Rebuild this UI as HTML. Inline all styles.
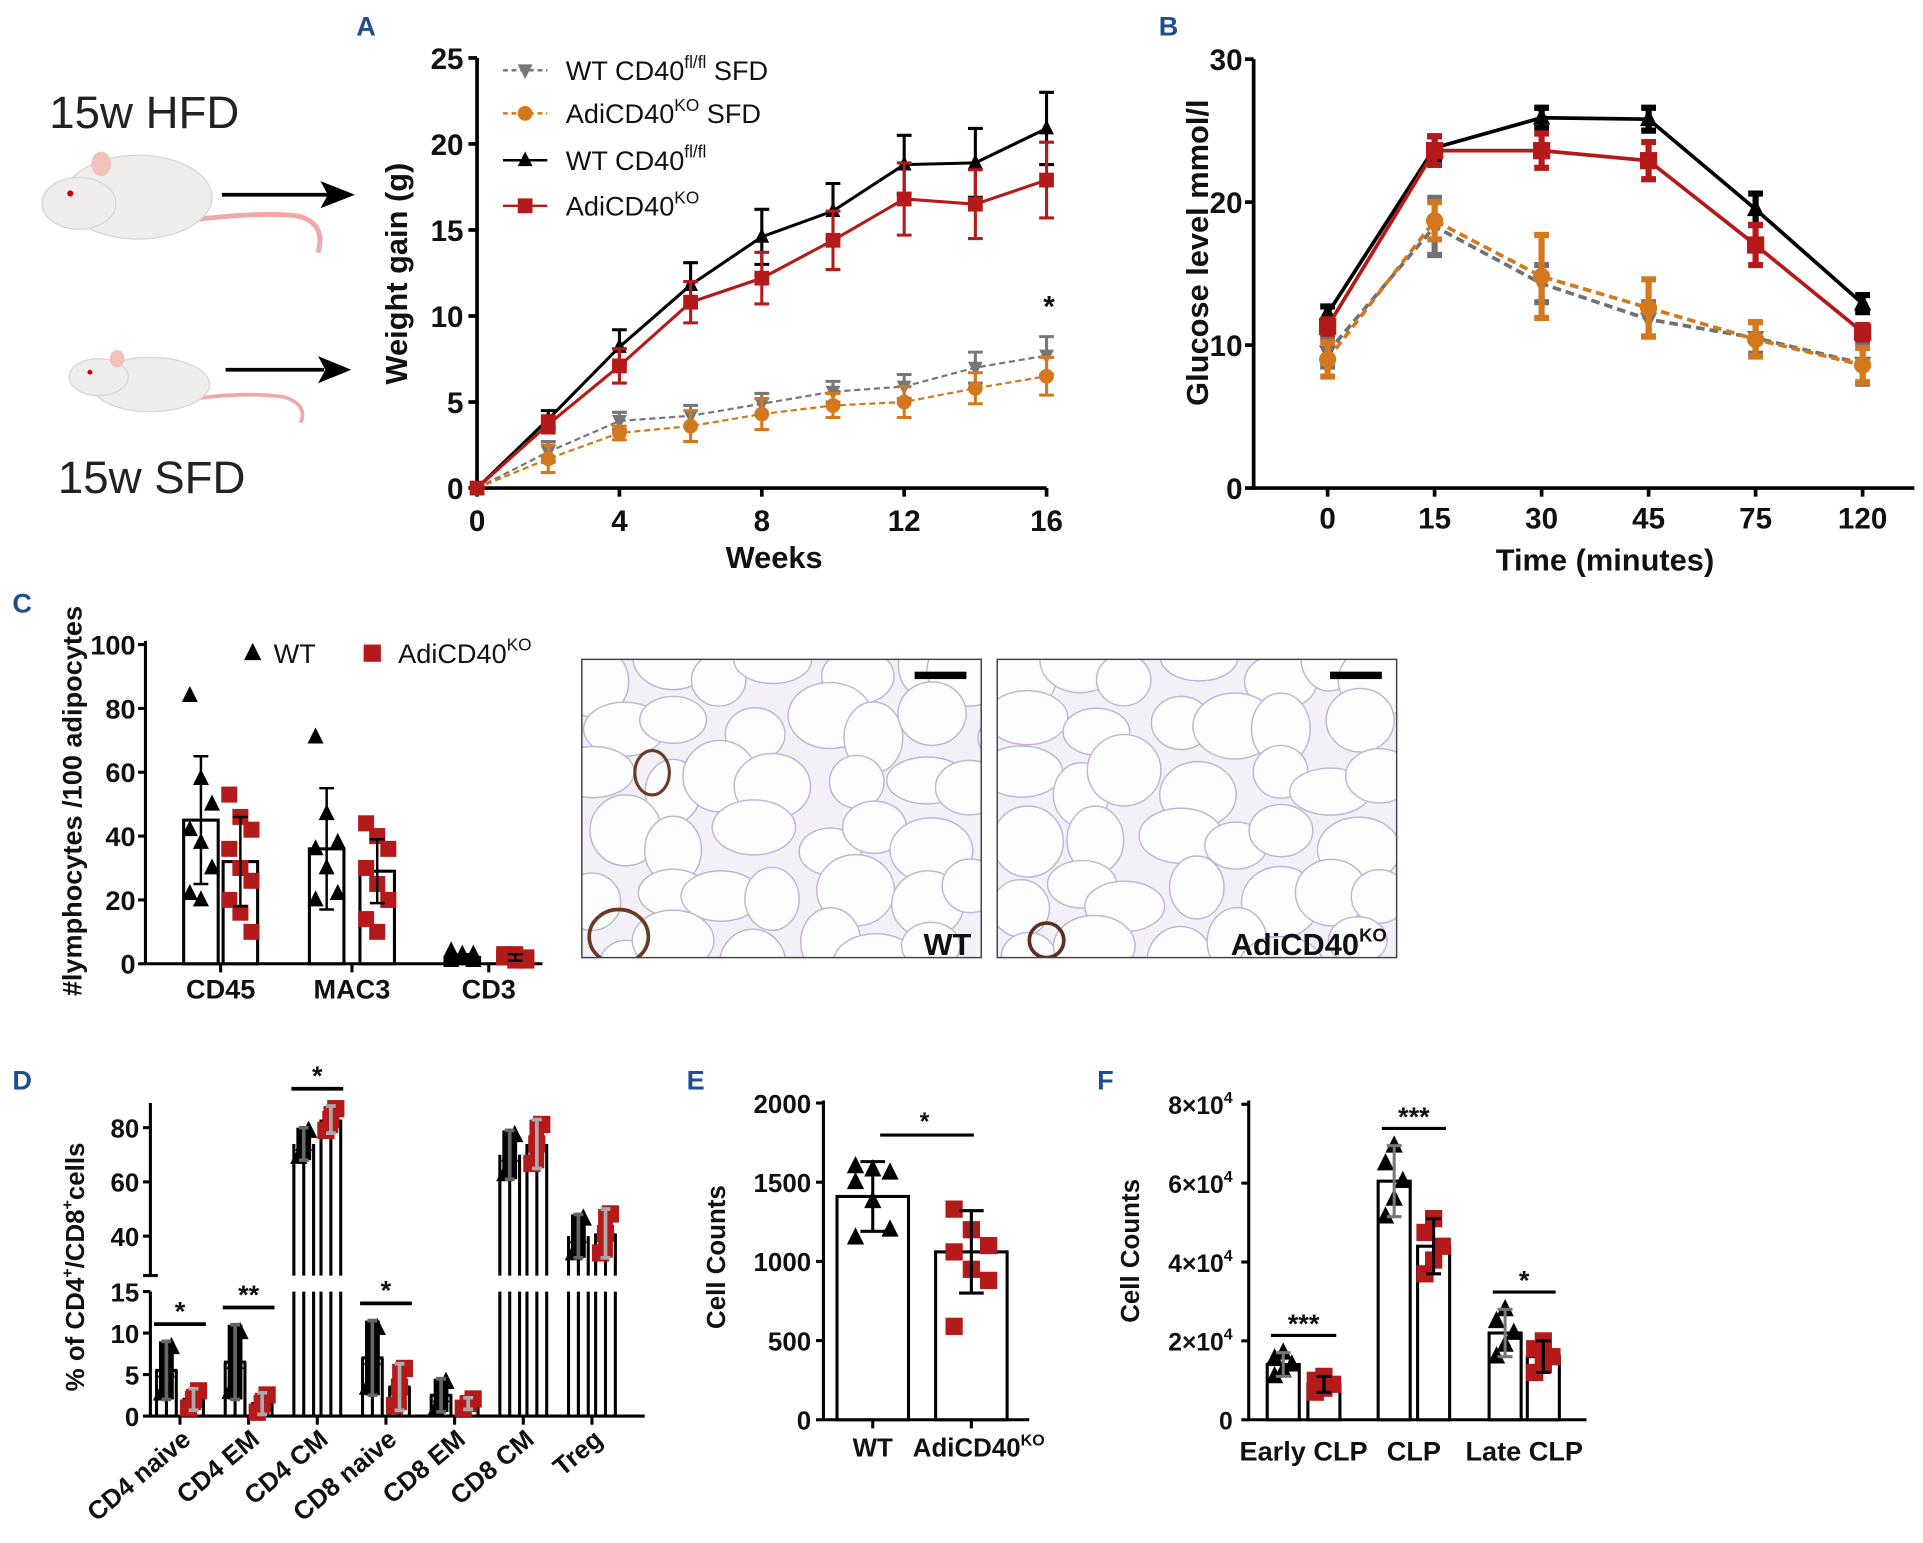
<!DOCTYPE html>
<html><head><meta charset="utf-8">
<style>
html,body{margin:0;padding:0;background:#fff;}
svg{display:block;font-family:"Liberation Sans",Arial,sans-serif;}
</style></head>
<body>
<svg id="fig" width="1923" height="1543" viewBox="0 0 1560 1252" preserveAspectRatio="none" xmlns="http://www.w3.org/2000/svg">
<rect width="1560" height="1252" fill="#fff"/>
<g fill="#1f4e8c" font-weight="bold" font-size="22">
<text x="289" y="29">A</text>
<text x="940" y="29">B</text>
<text x="10" y="497">C</text>
<text x="10" y="884">D</text>
<text x="557" y="884">E</text>
<text x="890" y="884">F</text>
</g>
<g>
<text x="40" y="104" font-size="37" fill="#222">15w HFD</text>
<text x="47" y="400" font-size="37" fill="#222">15w SFD</text>
<path d="M160 178 Q210 172 240 175 Q265 180 258 205" stroke="#f0a8a8" stroke-width="4" fill="none"/>
<ellipse cx="112" cy="160" rx="60" ry="34" fill="#efedec" stroke="#d9d5d1"/>
<ellipse cx="64" cy="165" rx="30" ry="21" fill="#efedec" stroke="#d9d5d1"/>
<ellipse cx="82" cy="133" rx="8" ry="10" fill="#f2c2bc"/>
<circle cx="57" cy="157" r="2.5" fill="#c00"/>
<path d="M162 323 Q200 318 230 322 Q250 328 244 343" stroke="#f0a8a8" stroke-width="3" fill="none"/>
<ellipse cx="122" cy="312" rx="48" ry="22" fill="#efedec" stroke="#d9d5d1"/>
<ellipse cx="80" cy="306" rx="24" ry="15" fill="#efedec" stroke="#d9d5d1"/>
<ellipse cx="95" cy="291" rx="6" ry="7" fill="#f2c2bc"/>
<circle cx="73" cy="302" r="2" fill="#c00"/>
<line x1="180" y1="158" x2="266" y2="158" stroke="#000" stroke-width="3"/>
<polygon points="288,158 260,147 266,158 260,169" fill="#000"/>
<line x1="183" y1="300" x2="263" y2="300" stroke="#000" stroke-width="3"/>
<polygon points="285,300 258,289 264,300 258,311" fill="#000"/>
</g>
<g id="gA"></g>
<g id="gB"></g>
<g id="gC"></g>
<g id="gM"></g>
<g id="gD"></g>
<g id="gE"></g>
<g id="gF"></g>
</svg>
<script>
// ===== Panel A data =====
const weeks = [0,2,4,6,8,10,12,14,16];
const aWtHfd = [0,4.0,8.2,11.8,14.6,16.1,18.8,18.9,20.9];
const aWtHfdErr = [0,0.5,1.0,1.3,1.6,1.6,1.7,2.0,2.1];
const aKoHfd = [0,3.7,7.1,10.8,12.2,14.4,16.8,16.5,17.9];
const aKoHfdErr = [0,0.5,1.0,1.2,1.5,1.7,2.1,2.0,2.2];
const aWtSfd = [0,2.1,3.9,4.2,4.9,5.6,5.9,7.0,7.7];
const aWtSfdErr = [0,0.6,0.5,0.6,0.6,0.6,0.7,0.9,1.1];
const aKoSfd = [0,1.7,3.2,3.6,4.3,4.8,5.0,5.8,6.5];
const aKoSfdErr = [0,0.8,0.4,0.9,0.9,0.7,0.9,0.9,1.1];
const aYTicks = [0,5,10,15,20,25];
const aXTicks = [0,4,8,12,16];
// ===== Panel B data =====
const bTimes = ['0','15','30','45','75','120'];
const bWtHfd = [12.2,23.8,25.9,25.8,19.5,12.9];
const bWtHfdErr = [0.5,0.8,0.7,0.8,1.1,0.6];
const bKoHfd = [11.3,23.6,23.6,22.9,17.0,10.9];
const bKoHfdErr = [0.5,1.0,1.2,1.3,1.4,0.5];
const bWtSfd = [9.5,18.3,14.3,11.8,10.5,8.7];
const bWtSfdErr = [1.0,2.0,1.3,1.2,1.1,1.4];
const bKoSfd = [9.0,18.7,14.8,12.6,10.4,8.6];
const bKoSfdErr = [1.2,1.3,2.9,2.0,1.2,1.2];
const bYTicks = [0,10,20,30];
// ===== Panel C data =====
const cCats = ['CD45','MAC3','CD3'];
const cWtMean = [45,36,2];
const cWtSd = [20,19,1];
const cKoMean = [32,29,2];
const cKoSd = [14,10,1];
const cWtPts = [[84,58,50,42,38,30,22,20],[71,47,38,36,30,22,20],[4,3,3,2,2,1,1]];
const cKoPts = [[53,46,42,36,30,26,20,16,10],[44,40,36,30,25,20,14,10],[3,3,2,2,1,1]];
const cYTicks = [0,20,40,60,80,100];
// ===== Panel D data =====
const dCats = ['CD4 naive','CD4 EM','CD4 CM','CD8 naive','CD8 EM','CD8 CM','Treg'];
const dWtMean = [5.5,6.5,74,7,2.5,70,40];
const dWtSd = [3.5,4.5,6,4.5,2,9,8];
const dKoMean = [2,1.5,83,3.5,1.5,74,41];
const dKoSd = [1.3,1.3,5,2.8,0.7,9,9];
const dSig = ['*','**','*','*','','',''];
const dLowTicks = [0,5,10,15];
const dHighTicks = [40,60,80];
// ===== Panel E data =====
const eCats = ['WT','AdiCD40'];
const eMean = [1410,1060];
const eSd = [220,260];
const ePts = [[1600,1580,1560,1500,1380,1200,1150],[1330,1200,1100,1060,950,880,590]];
const eYTicks = [0,500,1000,1500,2000];
// ===== Panel F data =====
const fCats = ['Early CLP','CLP','Late CLP'];
const fWtMean = [14000,60500,22000];
const fWtSd = [3000,9000,6000];
const fKoMean = [9000,44000,16000];
const fKoSd = [2000,7000,4000];
const fSig = ['***','***','*'];
const fYTicks = [0,20000,40000,60000,80000];
const fYLabels = ['0','2×10','4×10','6×10','8×10'];

const NS='http://www.w3.org/2000/svg';
function mk(p,tag,a){const e=document.createElementNS(NS,tag);for(const k in a)e.setAttribute(k,a[k]);p.appendChild(e);return e;}
function txt(p,x,y,s,size,anchor,extra){const e=mk(p,'text',Object.assign({x:x,y:y,'font-size':size,'text-anchor':anchor||'middle','font-weight':'bold',fill:'#111'},extra||{}));e.textContent=s;return e;}
function marker(p,shape,x,y,r,col){
  let e;
  if(shape==='sq')e=mk(p,'rect',{x:x-r,y:y-r,width:2*r,height:2*r,fill:col});
  else if(shape==='ci')e=mk(p,'circle',{cx:x,cy:y,r:r,fill:col});
  else if(shape==='tu')e=mk(p,'polygon',{points:`${x},${y-r*1.2} ${x-r},${y+r*0.8} ${x+r},${y+r*0.8}`,fill:col});
  else e=mk(p,'polygon',{points:`${x},${y+r*1.2} ${x-r},${y-r*0.8} ${x+r},${y-r*0.8}`,fill:col});
  return e;
}
function errbar(p,x,y1,y2,col,w,cap){
  return mk(p,'path',{d:`M${x} ${y1}V${y2}M${x-cap} ${y1}H${x+cap}M${x-cap} ${y2}H${x+cap}`,stroke:col,'stroke-width':w,fill:'none'});
}

// ===== Panel A =====
(function(){
  const g=document.getElementById('gA');
  const xS=v=>387+v*(462/16), yS=v=>396-v*(349/25);
  const ax=mk(g,'path',{d:`M387 ${yS(25)}V396H849`,stroke:'#000','stroke-width':3,fill:'none'});
  
  
  aYTicks.forEach(v=>{mk(g,'line',{x1:380,x2:387,y1:yS(v),y2:yS(v),stroke:'#000','stroke-width':3});
    const t=txt(g,376,yS(v)+9,String(v),24,'end');
    
    });
  aXTicks.forEach(v=>{mk(g,'line',{x1:xS(v),x2:xS(v),y1:396,y2:403,stroke:'#000','stroke-width':3});
    const t=txt(g,xS(v),431,String(v),24);
    
    });
  const xt=txt(g,628,461,'Weeks',25);
  
  
  const yt=txt(g,0,0,'Weight gain (g)',25,'middle',{transform:'translate(330,222) rotate(-90)'});
  
  
  const series=[[aWtSfd,aWtSfdErr,'#777','td',true,'wt-sfd'],[aKoSfd,aKoSfdErr,'#d4781e','ci',true,'ko-sfd'],[aWtHfd,aWtHfdErr,'#000','tu',false,'wt-hfd'],[aKoHfd,aKoHfdErr,'#b51a1a','sq',false,'ko-hfd']];
  series.forEach(s=>{
    const d=s[0].map((v,i)=>(i?'L':'M')+xS(weeks[i])+' '+yS(v)).join('');
    const l=mk(g,'path',{d:d,stroke:s[2],'stroke-width':s[4]?1.8:2.5,fill:'none','stroke-dasharray':s[4]?'5 3':'none'});
    
    
    s[0].forEach((v,i)=>{
      if(s[1][i]>0){const e=errbar(g,xS(weeks[i]),yS(v-s[1][i]),yS(v+s[1][i]),s[2],2.5,6);
        
        }
      const m=marker(g,s[3],xS(weeks[i]),yS(v),6,s[2]);
      
      
    });
  });
  const st=txt(g,851,257,'*',24);
  
  
  const leg=[['WT CD40','fl/fl',' SFD','#777','td',true],['AdiCD40','KO',' SFD','#d4781e','ci',true],['WT CD40','fl/fl','','#000','tu',false],['AdiCD40','KO','','#b51a1a','sq',false]];
  const ly=[57,92,130,167];
  leg.forEach((L,i)=>{
    mk(g,'line',{x1:408,x2:444,y1:ly[i],y2:ly[i],stroke:L[3],'stroke-width':2,'stroke-dasharray':L[5]?'4 3':'none'});
    marker(g,L[4],426,ly[i],6,L[3]);
    const t=mk(g,'text',{x:459,y:ly[i]+8,'font-size':22,fill:'#111'});
    
    
    t.innerHTML=L[0]+'<tspan font-size="14" dy="-10">'+L[1]+'</tspan><tspan dy="10">'+L[2]+'</tspan>';
  });
})();

// ===== Panel B =====
(function(){
  const g=document.getElementById('gB');
  const xS=i=>1077+i*86.8, yS=v=>396-v*(348/30);
  const ax=mk(g,'path',{d:`M1017 48V396H1553`,stroke:'#000','stroke-width':3,fill:'none'});
  
  
  bYTicks.forEach(v=>{mk(g,'line',{x1:1010,x2:1017,y1:yS(v),y2:yS(v),stroke:'#000','stroke-width':3});
    const t=txt(g,1008,yS(v)+9,String(v),24,'end');
    
    });
  bTimes.forEach((v,i)=>{mk(g,'line',{x1:xS(i),x2:xS(i),y1:396,y2:403,stroke:'#000','stroke-width':3});
    const t=txt(g,xS(i),429,v,24);
    
    });
  const xt=txt(g,1302,463,'Time (minutes)',25);
  
  
  const yt=txt(g,0,0,'Glucose level mmol/l',25,'middle',{transform:'translate(980,205) rotate(-90)'});
  
  
  const series=[[bWtSfd,bWtSfdErr,'#707070','td',true,'wt-sfd'],[bKoSfd,bKoSfdErr,'#d4781e','ci',true,'ko-sfd'],[bWtHfd,bWtHfdErr,'#000','tu',false,'wt-hfd'],[bKoHfd,bKoHfdErr,'#b51a1a','sq',false,'ko-hfd']];
  series.forEach(s=>{
    const d=s[0].map((v,i)=>(i?'L':'M')+xS(i)+' '+yS(v)).join('');
    const l=mk(g,'path',{d:d,stroke:s[2],'stroke-width':3,fill:'none','stroke-dasharray':s[4]?'7 4':'none'});
    
    
    s[0].forEach((v,i)=>{
      const e=errbar(g,xS(i),yS(v-s[1][i]),yS(v+s[1][i]),s[2],5,6);
      
      
      const m=marker(g,s[3],xS(i),yS(v),7,s[2]);
      
      
    });
  });
})();

// ===== Panel C =====
(function(){
  const g=document.getElementById('gC');
  const yS=v=>782-v*2.59;
  const wtX=[163,265,375], koX=[195,306,418];
  const ax=mk(g,'path',{d:`M118 520V782H440`,stroke:'#000','stroke-width':2.5,fill:'none'});
  
  
  cYTicks.forEach(v=>{mk(g,'line',{x1:112,x2:118,y1:yS(v),y2:yS(v),stroke:'#000','stroke-width':2.5});
    const t=txt(g,110,yS(v)+8,String(v),22,'end');
    
    });
  cCats.forEach((c,i)=>{
    const mid=(wtX[i]+koX[i])/2;
    mk(g,'line',{x1:mid,x2:mid,y1:782,y2:789,stroke:'#000','stroke-width':2.5});
    const t=txt(g,mid,810,c,22);
    
    
    [[wtX[i],cWtMean[i],cWtSd[i],cWtPts[i],'#000','tu','wt'],[koX[i],cKoMean[i],cKoSd[i],cKoPts[i],'#b51a1a','sq','ko']].forEach(b=>{
      const r=mk(g,'rect',{x:b[0]-14,y:yS(b[1]),width:28,height:782-yS(b[1]),fill:'#fff',stroke:'#000','stroke-width':2.5});
      
      
      b[3].forEach((v,j)=>{const m=marker(g,b[5],b[0]+((j%3)-1)*9,yS(v),6.5,b[4]);
        
        });
      const e=errbar(g,b[0],yS(b[1]-b[2]),yS(b[1]+b[2]),'#000',2,6);
      
      
    });
  });
  const yt=txt(g,0,0,'#lymphocytes /100 adipocytes',22,'middle',{transform:'translate(66,650) rotate(-90)'});
  
  
  marker(g,'tu',205,530,7,'#000');
  const l1=mk(g,'text',{x:222,y:538,'font-size':22,fill:'#111'});l1.textContent='WT';
  
  
  marker(g,'sq',302,530,7,'#b51a1a');
  const l2=mk(g,'text',{x:323,y:538,'font-size':22,fill:'#111'});
  l2.innerHTML='AdiCD40<tspan font-size="14" dy="-10">KO</tspan>';
  
  
})();

// ===== micrographs =====
(function(){
  const g=document.getElementById('gM');
  [[472,'WT','micrograph-wt',0],[809,'AdiCD40','micrograph-ko',1]].forEach(P=>{
    const x0=P[0],y0=535,w=324,h=242;
    const gg=mk(g,'g',{});
    
    
    const cid='clip'+P[3];
    const cp=mk(gg,'clipPath',{id:cid});mk(cp,'rect',{x:x0,y:y0,width:w,height:h});
    mk(gg,'rect',{x:x0,y:y0,width:w,height:h,fill:'#f3f1f7'});
    const cg=mk(gg,'g',{'clip-path':`url(#${cid})`});
    for(let r=0;r<6;r++)for(let c=0;c<7;c++){
      const cx=x0+10+c*52+(r%2)*24+12*Math.sin(r*3.1+c*1.7+P[3]);
      const cy=y0+8+r*46+10*Math.cos(r*1.3+c*2.9+P[3]);
      const rx=28+6*Math.sin(c*2.3+r), ry=24+5*Math.cos(c*1.1+r*2);
      mk(cg,'ellipse',{cx:cx,cy:cy,rx:rx,ry:ry,fill:'#fdfdfe',stroke:'#c2b4d4','stroke-width':1.2});
    }
    if(!P[3]){mk(cg,'ellipse',{cx:x0+30,cy:y0+225,rx:24,ry:22,fill:'none',stroke:'#6a3a25','stroke-width':3});
      mk(cg,'ellipse',{cx:x0+57,cy:y0+92,rx:14,ry:18,fill:'none',stroke:'#6a3a25','stroke-width':2.5});}
    else {mk(cg,'ellipse',{cx:x0+40,cy:y0+228,rx:14,ry:14,fill:'none',stroke:'#5a3020','stroke-width':3});}
    mk(gg,'rect',{x:x0,y:y0,width:w,height:h,fill:'none',stroke:'#444','stroke-width':1.2});
    mk(gg,'rect',{x:x0+w-54,y:y0+10,width:42,height:6,fill:'#000'});
    const t=mk(gg,'text',{x:x0+w-8,y:y0+h-2,'text-anchor':'end','font-size':25,'font-weight':'bold',fill:'#111'});
    t.innerHTML=P[1]+(P[3]?'<tspan font-size="15" dy="-11">KO</tspan>':'');
    
    
  });
})();

// ===== Panel D =====
(function(){
  const g=document.getElementById('gD');
  const yLow=v=>1149-v*(101/15), yHigh=v=>1003-(v-40)*2.2;
  const yS=v=>v<=15?yLow(v):yHigh(v);
  const ax=mk(g,'path',{d:`M122 895V1035M116 1035H128M122 1048V1149H523`,stroke:'#000','stroke-width':2.5,fill:'none'});
  
  
  dLowTicks.forEach(v=>{mk(g,'line',{x1:116,x2:122,y1:yLow(v),y2:yLow(v),stroke:'#000','stroke-width':2.5});
    const t=txt(g,113,yLow(v)+8,String(v),21,'end');
    
    });
  dHighTicks.forEach(v=>{mk(g,'line',{x1:116,x2:122,y1:yHigh(v),y2:yHigh(v),stroke:'#000','stroke-width':2.5});
    const t=txt(g,113,yHigh(v)+8,String(v),21,'end');
    
    });
  const yt=mk(g,'text',{transform:'translate(68,1028) rotate(-90)','text-anchor':'middle','font-size':21,'font-weight':'bold',fill:'#111'});
  yt.innerHTML='% of CD4<tspan font-size="13" dy="-9">+</tspan><tspan dy="9">/CD8</tspan><tspan font-size="13" dy="-9">+</tspan><tspan dy="9">cells</tspan>';
  
  
  dCats.forEach((c,i)=>{
    const mid=146+i*55.7, wx=mid-11, kx=mid+11;
    mk(g,'line',{x1:mid,x2:mid,y1:1149,y2:1156,stroke:'#000','stroke-width':2.5});
    const t=txt(g,0,0,c,21,'end',{transform:`translate(${mid+10},1170) rotate(-40)`});
    
    
    [[wx,dWtMean[i],dWtSd[i],'#000','#666','tu','wt'],[kx,dKoMean[i],dKoSd[i],'#b51a1a','#aaa','sq','ko']].forEach(b=>{
      const top=yS(b[1]);
      const bg=mk(g,'g',{});
      
      
      let d='';
      [b[0]-8,b[0],b[0]+8].forEach(xx=>{ if(b[1]>15){d+=`M${xx} 1149V1048M${xx} 1035V${top}`;} else d+=`M${xx} 1149V${top}`;});
      mk(bg,'path',{d:d,stroke:'#000','stroke-width':2.5,fill:'none'});
      if(b[1]<=15) mk(bg,'line',{x1:b[0]-9,x2:b[0]+9,y1:top,y2:top,stroke:'#000','stroke-width':2.5});
      [-1,0,1].forEach((o,j)=>{const m=marker(bg,b[5],b[0]+o*4,yS(Math.max(0,b[1]+o*b[2]*0.8)),7,b[3]);
        
        });
      mk(bg,'rect',{x:b[0]-6,y:yS(b[1]+b[2]),width:12,height:Math.max(4,yS(Math.max(0,b[1]-b[2]))-yS(b[1]+b[2])),fill:b[3]});
      const e=errbar(bg,b[0],yS(Math.max(0,b[1]-b[2])),yS(b[1]+b[2]),b[4],3,4);
      
      
    });
    if(dSig[i]){
      const top=Math.min(yS(dWtMean[i]+dWtSd[i]),yS(dKoMean[i]+dKoSd[i]))-14;
      mk(g,'line',{x1:wx-10,x2:kx+10,y1:top,y2:top,stroke:'#000','stroke-width':3});
      const s=txt(g,mid,top-3,dSig[i],22);
      
      
    }
  });
})();

// ===== Panel E =====
(function(){
  const g=document.getElementById('gE');
  const yS=v=>1152-v*(257/2000);
  const xs=[708,788];
  const ax=mk(g,'path',{d:`M668 893V1152H835`,stroke:'#000','stroke-width':2.5,fill:'none'});
  
  
  eYTicks.forEach(v=>{mk(g,'line',{x1:662,x2:668,y1:yS(v),y2:yS(v),stroke:'#000','stroke-width':2.5});
    const t=txt(g,658,yS(v)+8,String(v),21,'end');
    
    });
  const yt=txt(g,0,0,'Cell Counts',21,'middle',{transform:'translate(588,1020) rotate(-90)'});
  
  
  eCats.forEach((c,i)=>{
    const col=i?'#b51a1a':'#000';
    mk(g,'line',{x1:xs[i],x2:xs[i],y1:1152,y2:1159,stroke:'#000','stroke-width':2.5});
    const r=mk(g,'rect',{x:xs[i]-29,y:yS(eMean[i]),width:58,height:1152-yS(eMean[i]),fill:'#fff',stroke:'#000','stroke-width':2.5});
    
    
    ePts[i].forEach((v,j)=>{const m=marker(g,i?'sq':'tu',xs[i]+((j%3)-1)*14,yS(v),7,col);
      
      });
    const e=errbar(g,xs[i],yS(eMean[i]-eSd[i]),yS(eMean[i]+eSd[i]),'#000',2.5,10);
    
    
    const t=mk(g,'text',{x:xs[i]+(i?6:0),y:1182,'text-anchor':'middle','font-size':21,'font-weight':'bold',fill:'#111'});
    t.innerHTML=c+(i?'<tspan font-size="13" dy="-9">KO</tspan>':'');
    
    
  });
  mk(g,'line',{x1:714,x2:790,y1:921,y2:921,stroke:'#000','stroke-width':2.5});
  const s=txt(g,750,917,'*',20);
  
  
})();

// ===== Panel F =====
(function(){
  const g=document.getElementById('gF');
  const yS=v=>1152-v*(256/80000);
  const ax=mk(g,'path',{d:`M1013 893V1152H1287`,stroke:'#000','stroke-width':2.5,fill:'none'});
  
  
  fYTicks.forEach((v,i)=>{mk(g,'line',{x1:1007,x2:1013,y1:yS(v),y2:yS(v),stroke:'#000','stroke-width':2.5});
    const t=mk(g,'text',{x:1000,y:yS(v)+8,'text-anchor':'end','font-size':20,'font-weight':'bold',fill:'#111'});
    t.innerHTML=fYLabels[i]+(i?'<tspan font-size="13" dy="-9">4</tspan>':'');
    
    });
  const yt=txt(g,0,0,'Cell Counts',21,'middle',{transform:'translate(924,1015) rotate(-90)'});
  
  
  const wt=[1041,1131,1221], ko=[1074,1163,1252];
  fCats.forEach((c,i)=>{
    const mid=(wt[i]+ko[i])/2;
    const t=txt(g,mid,1185,c,22);
    
    
    [[wt[i],fWtMean[i],fWtSd[i],'#000','#777','tu','wt'],[ko[i],fKoMean[i],fKoSd[i],'#b51a1a','#000','sq','ko']].forEach(b=>{
      const r=mk(g,'rect',{x:b[0]-13,y:yS(b[1]),width:26,height:1152-yS(b[1]),fill:'#fff',stroke:'#000','stroke-width':2.5});
      
      
      [-1,-0.5,0,0.5,1].forEach((o,j)=>{const m=marker(g,b[5],b[0]+((j%3)-1)*7,yS(b[1]+o*b[2]),7,b[3]);
        
        });
      const e=errbar(g,b[0],yS(b[1]-b[2]),yS(b[1]+b[2]),b[4],2.5,6);
      
      
    });
    const top=Math.min(yS(fWtMean[i]+fWtSd[i]),yS(fKoMean[i]+fKoSd[i]))-14;
    mk(g,'line',{x1:wt[i]-10,x2:ko[i]+10,y1:top,y2:top,stroke:'#000','stroke-width':2.5});
    const s=txt(g,mid,top-2,fSig[i],22);
    
    
  });
})();
</script>
</body></html>
